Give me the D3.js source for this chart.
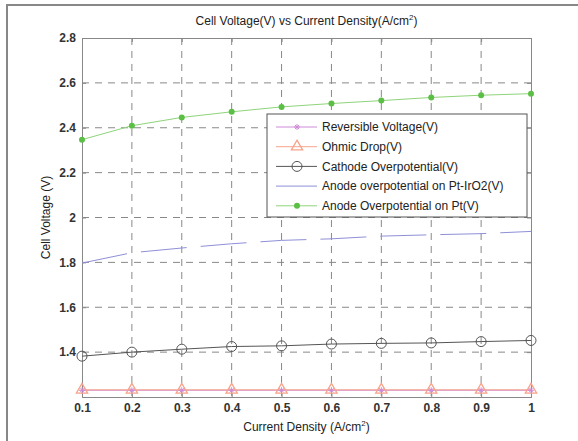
<!DOCTYPE html>
<html>
<head>
<meta charset="utf-8">
<script src="https://cdn.jsdelivr.net/npm/d3@7"></script>
<style>
  body { margin: 0; background: #fff; }
  svg { font-family: "Liberation Sans", Arial, sans-serif; }
</style>
</head>
<body>
<div id="chart"></div>
<script>
// data
const currentDensity = [0.1, 0.2, 0.3, 0.4, 0.5, 0.6, 0.7, 0.8, 0.9, 1.0];
const reversible = [1.23, 1.23, 1.23, 1.23, 1.23, 1.23, 1.23, 1.23, 1.23, 1.23];
const ohmicDrop = [1.232, 1.232, 1.232, 1.232, 1.232, 1.232, 1.232, 1.232, 1.232, 1.232];
const cathode = [1.382, 1.400, 1.413, 1.425, 1.428, 1.436, 1.439, 1.441, 1.447, 1.452];
const anodePtIrO2 = [1.797, 1.843, 1.864, 1.883, 1.898, 1.905, 1.917, 1.923, 1.928, 1.938];
const anodePt = [2.347, 2.409, 2.446, 2.471, 2.493, 2.508, 2.521, 2.535, 2.545, 2.552];
const xTicks = [0.1, 0.2, 0.3, 0.4, 0.5, 0.6, 0.7, 0.8, 0.9, 1];
const yTicks = [1.4, 1.6, 1.8, 2, 2.2, 2.4, 2.6, 2.8];

const series = [
  {name: "Reversible Voltage(V)", values: reversible, color: "#d08ad8", marker: "star"},
  {name: "Ohmic Drop(V)", values: ohmicDrop, color: "#f7a48a", marker: "triangle"},
  {name: "Cathode Overpotential(V)", values: cathode, color: "#555", marker: "circle"},
  {name: "Anode overpotential on Pt-IrO2(V)", values: anodePtIrO2, color: "#8f8fd8", marker: "none", dash: "46,14"},
  {name: "Anode Overpotential on Pt(V)", values: anodePt, color: "#8ed47a", marker: "dot"}
];

const W = 578, H = 441;
const margin = {top: 38, right: 47, bottom: 44, left: 82};
const width = W - margin.left - margin.right;
const height = H - margin.top - margin.bottom;

const svg = d3.select("#chart").append("svg")
    .attr("width", W)
    .attr("height", H);

// outer frame
svg.append("path")
    .attr("d", "M7," + H + "V5H" + W)
    .attr("fill", "none")
    .attr("stroke", "#888")
    .attr("stroke-width", 2);

const g = svg.append("g")
    .attr("transform", "translate(" + margin.left + "," + margin.top + ")");

const x = d3.scaleLinear().domain([0.1, 1]).range([0, width]);
const y = d3.scaleLinear().domain([1.2, 2.8]).range([height, 0]);

// grid
g.append("g").selectAll("line")
    .data(xTicks.slice(1, -1))
    .enter().append("line")
    .attr("x1", d => x(d)).attr("x2", d => x(d))
    .attr("y1", 0).attr("y2", height)
    .attr("stroke", "#888")
    .attr("stroke-dasharray", "7,6");

g.append("g").selectAll("line")
    .data(yTicks.slice(0, -1))
    .enter().append("line")
    .attr("x1", 0).attr("x2", width)
    .attr("y1", d => y(d)).attr("y2", d => y(d))
    .attr("stroke", "#888")
    .attr("stroke-dasharray", "7,6");

// axes
const xAxis = g.append("g")
    .attr("transform", "translate(0," + height + ")")
    .call(d3.axisBottom(x).tickValues(xTicks).tickSize(-4).tickPadding(6).tickFormat(d3.format("~g")));
const xTop = g.append("g")
    .call(d3.axisTop(x).tickValues(xTicks).tickSize(-4).tickFormat(""));
const yAxis = g.append("g")
    .call(d3.axisLeft(y).tickValues(yTicks).tickSize(-4).tickPadding(6).tickFormat(d3.format("~g")));
const yRight = g.append("g")
    .attr("transform", "translate(" + width + ",0)")
    .call(d3.axisRight(y).tickValues(yTicks).tickSize(-4).tickFormat(""));

[xAxis, xTop, yAxis, yRight].forEach(a => {
    a.select(".domain").attr("stroke", "#888");
    a.selectAll(".tick line").attr("stroke", "#888");
    a.selectAll("text")
        .style("font-size", "12px")
        .style("font-weight", "bold")
        .attr("fill", "#333");
});

// lines
const line = d3.line()
    .x((d, i) => x(currentDensity[i]))
    .y(d => y(d));

function drawMarker(sel, type, color) {
    if (type === "star") {
        sel.append("path")
            .attr("d", "M-3,0H3M0,-3V3M-2,-2L2,2M-2,2L2,-2")
            .attr("stroke", color).attr("stroke-width", 1);
    } else if (type === "triangle") {
        sel.append("path")
            .attr("d", d3.symbol(d3.symbolTriangle, 55)())
            .attr("fill", "none").attr("stroke", color).attr("stroke-width", 1.3);
    } else if (type === "circle") {
        sel.append("circle").attr("r", 5)
            .attr("fill", "none").attr("stroke", color).attr("stroke-width", 1);
    } else if (type === "dot") {
        sel.append("circle").attr("r", 3)
            .attr("fill", "#5cbf45");
    }
}

series.forEach(s => {
    g.append("path")
        .datum(s.values)
        .attr("d", line)
        .attr("fill", "none")
        .attr("stroke", s.color)
        .attr("stroke-width", 1)
        .attr("stroke-dasharray", s.dash || null);
});

// markers drawn so the reversible stars sit inside the triangles
[1, 0, 2, 4].forEach(k => {
    const s = series[k];
    g.append("g").selectAll("g")
        .data(s.values)
        .enter().append("g")
        .attr("transform", (d, i) => "translate(" + x(currentDensity[i]) + "," + y(d) + ")")
        .each(function() { drawMarker(d3.select(this), s.marker, s.color); });
});

// legend
const legend = g.append("g")
    .attr("transform", "translate(" + (267 - margin.left) + "," + (114 - margin.top) + ")");
legend.append("rect")
    .attr("width", 260).attr("height", 103)
    .attr("fill", "#fff")
    .attr("stroke", "#555");

const item = legend.selectAll("g.item")
    .data(series)
    .enter().append("g")
    .attr("class", "item")
    .attr("transform", (d, i) => "translate(0," + (13 + i * 19.7) + ")");
item.append("line")
    .attr("x1", 9).attr("x2", 50)
    .attr("stroke", d => d.color);
item.append("g")
    .attr("transform", "translate(30,0)")
    .each(function(d) { drawMarker(d3.select(this), d.marker, d.color); });
item.append("text")
    .attr("x", 55)
    .attr("dy", "0.35em")
    .style("font-size", "12px")
    .attr("fill", "#222")
    .text(d => d.name);

// title and axis labels
const title = svg.append("text")
    .attr("x", margin.left + width / 2)
    .attr("y", 25)
    .attr("text-anchor", "middle")
    .style("font-size", "12px")
    .attr("fill", "#222");
title.append("tspan").text("Cell Voltage(V) vs Current Density(A/cm");
title.append("tspan").attr("dy", -5).style("font-size", "8px").text("2");
title.append("tspan").attr("dy", 5).text(")");

const xLabel = svg.append("text")
    .attr("x", margin.left + width / 2)
    .attr("y", 431)
    .attr("text-anchor", "middle")
    .style("font-size", "12px")
    .attr("fill", "#222");
xLabel.append("tspan").text("Current Density (A/cm");
xLabel.append("tspan").attr("dy", -5).style("font-size", "8px").text("2");
xLabel.append("tspan").attr("dy", 5).text(")");

svg.append("text")
    .attr("transform", "translate(50," + (margin.top + height / 2) + ") rotate(-90)")
    .attr("text-anchor", "middle")
    .style("font-size", "12px")
    .attr("fill", "#222")
    .text("Cell Voltage (V)");
</script>
</body>
</html>
